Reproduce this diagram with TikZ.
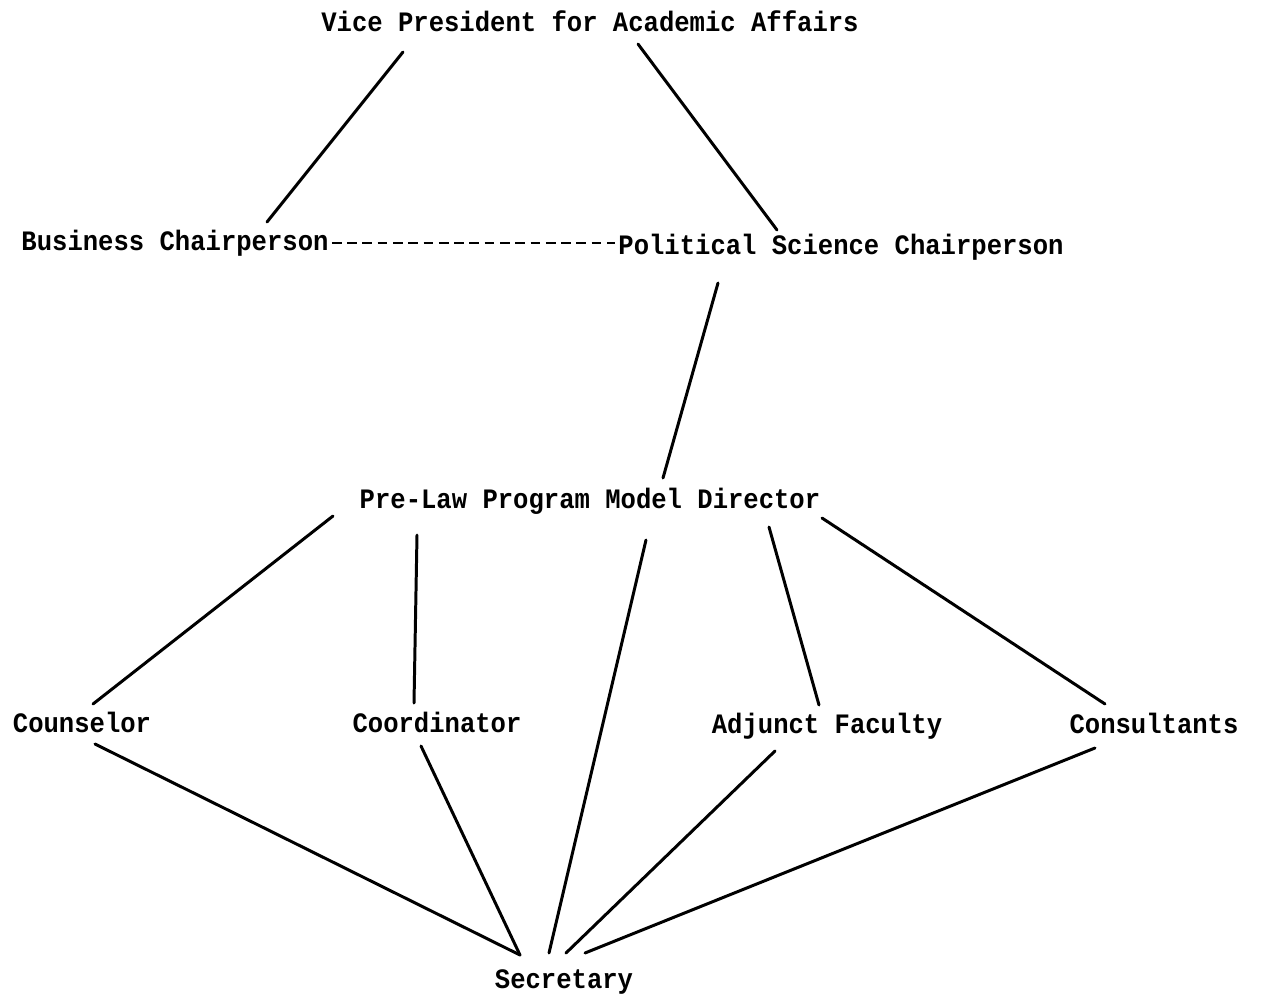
\documentclass[tikz,border=0pt]{standalone}
\usepackage{fontspec}
\newfontfamily\typefont{Liberation Mono}[FakeStretch=0.91]
\begin{document}
\begin{tikzpicture}
  [x=0.02cm,y=-0.02cm,every node/.style={inner sep=0pt,anchor=base,font=\typefont\fontsize{16pt}{18pt}\selectfont\bfseries}]
  \tikzstyle{link} = [line width=1.7pt,line cap=round]
  \tikzstyle{liaison} = [line width=1.2pt,dash pattern=on 5.5pt off 3.2pt]
  \useasboundingbox (0,0) rectangle (1269,1002);
  \node (vp)   at (590,31)  {Vice President for Academic Affairs};
  \node (bus)  at (175,250) {Business Chairperson};
  \node (pol)  at (841,254) {Political Science Chairperson};
  \node (dir)  at (590,508) {Pre-Law Program Model Director};
  \node (cou)  at (82,732)  {Counselor};
  \node (coo)  at (437,732) {Coordinator};
  \node (adj)  at (827,733) {Adjunct Faculty};
  \node (con)  at (1154,733) {Consultants};
  \node (sec)  at (564,988) {Secretary};
  \foreach \src/\sx/\sy/\dst/\dx/\dy in {vp/-187/21/bus/92/-28, vp/48/13/pol/-64/-24,
      pol/-123/29/dir/73/-30, dir/-257/8/cou/11/-28, dir/-173/27/coo/-23/-29,
      dir/56/32/sec/-15/-35, dir/179/19/adj/-8/-28, dir/232/10/con/-49/-29,
      cou/13/12/sec/-44/-33, coo/-16/14/sec/-44/-33, adj/-52/18/sec/2/-35,
      con/-59/15/sec/21/-35}
   \draw[link] ([shift={(\sx,\sy)}]\src.base) -- ([shift={(\dx,\dy)}]\dst.base);
  \draw[liaison] ([shift={(3,-7)}]bus.base east) -- ([shift={(-3,-11)}]pol.base west);
\end{tikzpicture}
\end{document}
